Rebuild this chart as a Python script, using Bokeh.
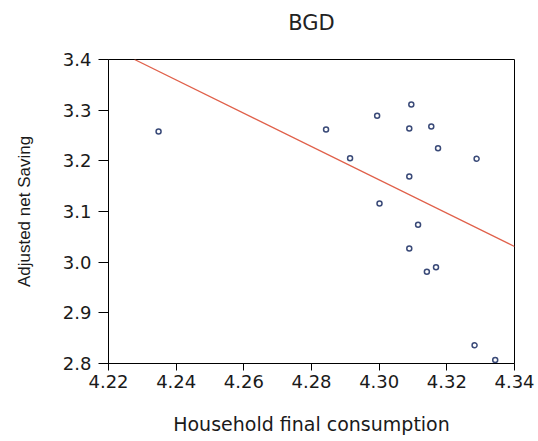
from bokeh.plotting import figure
from bokeh.models import Range1d, FixedTicker, PrintfTickFormatter, Title
from bokeh.embed import file_html
from bokeh.resources import INLINE

# Data
consumption = [4.2348, 4.2843, 4.2914, 4.2994, 4.3001, 4.3095, 4.3089, 4.3154,
               4.3174, 4.3288, 4.3089, 4.3115, 4.3089, 4.3168, 4.3141, 4.3282, 4.3343]
saving = [3.258, 3.262, 3.205, 3.289, 3.116, 3.311, 3.264, 3.268,
          3.225, 3.204, 3.169, 3.074, 3.027, 2.990, 2.981, 2.836, 2.807]
fit_x = [4.2277, 4.34]
fit_y = [3.400, 3.031]
x_ticks = [4.22, 4.24, 4.26, 4.28, 4.30, 4.32, 4.34]
y_ticks = [2.8, 2.9, 3.0, 3.1, 3.2, 3.3, 3.4]
title_text = "BGD"

p = figure(width=538, height=441, output_backend="svg", toolbar_location=None,
           x_range=Range1d(4.22, 4.34), y_range=Range1d(2.8, 3.4),
           min_border_left=108, min_border_right=24, min_border_top=59,
           min_border_bottom=78, title=None)
p.background_fill_color = "white"
p.border_fill_color = "white"
p.outline_line_color = "black"
p.outline_line_width = 1
p.xgrid.visible = False
p.ygrid.visible = False

spacer = Title(text=" ", text_font_size="21px", standoff=0)
main_title = Title(text=title_text, align="center", text_font="DejaVu Sans",
                   text_font_size="21px", text_font_style="normal",
                   text_color="#222222", standoff=0)
p.add_layout(spacer, "above")
p.add_layout(main_title, "above")

for ax in (p.xaxis[0], p.yaxis[0]):
    ax.axis_line_color = "black"
    ax.major_tick_line_color = "black"
    ax.minor_tick_line_color = None
    ax.major_tick_in = 0
    ax.major_label_text_font = "DejaVu Sans"
    ax.major_label_text_font_size = "18px"
    ax.major_label_text_color = "#1a1a1a"
    ax.axis_label_text_font_style = "normal"
    ax.axis_label_text_color = "#1a1a1a"

p.xaxis[0].ticker = FixedTicker(ticks=x_ticks)
p.xaxis[0].formatter = PrintfTickFormatter(format="%.2f")
p.xaxis[0].major_tick_out = 7
p.xaxis[0].major_label_standoff = 4
p.xaxis[0].axis_label = "Household final consumption"
p.xaxis[0].axis_label_text_font = "DejaVu Sans"
p.xaxis[0].axis_label_text_font_size = "19px"
p.xaxis[0].axis_label_standoff = 22

p.yaxis[0].ticker = FixedTicker(ticks=y_ticks)
p.yaxis[0].formatter = PrintfTickFormatter(format="%.1f")
p.yaxis[0].major_tick_out = 10
p.yaxis[0].major_label_standoff = 7
p.yaxis[0].axis_label = "Adjusted net Saving"
p.yaxis[0].axis_label_text_font = "Liberation Sans"
p.yaxis[0].axis_label_text_font_size = "17px"
p.yaxis[0].axis_label_standoff = 26

p.line(fit_x, fit_y, line_color="#e0604a", line_width=1.2)
p.scatter(consumption, saving, marker="circle", size=5, fill_color=None,
          line_color="#3a4a78", line_width=1.5)

open("out.html", "w").write(file_html(p, INLINE))
